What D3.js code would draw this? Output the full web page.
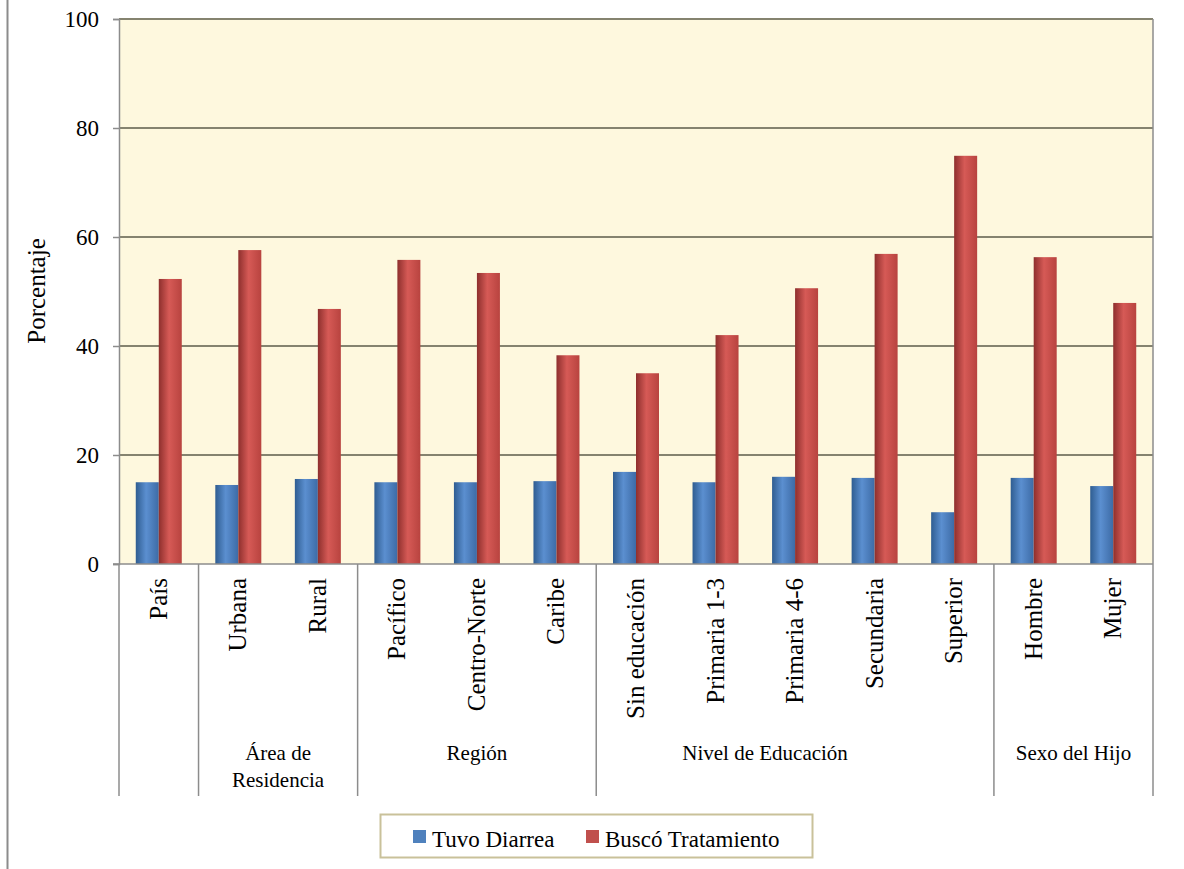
<!DOCTYPE html>
<html><head><meta charset="utf-8">
<script src="https://cdn.jsdelivr.net/npm/d3@7"></script>
<style>body{margin:0;background:#fff;} svg{display:block;}</style>
</head><body>
<svg id="c" width="1184" height="869"></svg>
<script>
const categories = ["País","Urbana","Rural","Pacífico","Centro-Norte","Caribe","Sin educación","Primaria 1-3","Primaria 4-6","Secundaria","Superior","Hombre","Mujer"];
const tuvoDiarrea = [15.0,14.5,15.6,15.0,15.0,15.2,16.9,15.0,16.0,15.8,9.5,15.8,14.3];
const buscoTratamiento = [52.3,57.6,46.8,55.8,53.4,38.3,35.0,42.0,50.6,56.9,74.9,56.3,47.9];
const groupNames = [[""],["Área de","Residencia"],["Región"],["Nivel de Educación"],["Sexo del Hijo"]];
const groupStart = [0,1,3,6,11];
const groupEnd = [0,2,5,10,12];
const yTicks = [0,20,40,60,80,100];
const seriesNames = ["Tuvo Diarrea","Buscó Tratamiento"];

const font = "'Liberation Serif','DejaVu Serif',serif";
const groupLabelShift = [0,0,0,-30,0];

const svg = d3.select("#c");
const L=119,R=1153,T=19,B=564;
const x = d3.scaleBand().domain(categories).range([L,R]).paddingInner(0).paddingOuter(0);
const y = d3.scaleLinear().domain([0,100]).range([B,T]);
const sub = d3.scaleBand().domain(seriesNames).range([0,46]);
const offset = (x.bandwidth()-46)/2;

const defs = svg.append("defs");
function grad(id, dark, mid, light){
  const g = defs.append("linearGradient").attr("id",id).attr("x1","0").attr("x2","1").attr("y1","0").attr("y2","0");
  g.append("stop").attr("offset","0%").attr("stop-color",dark);
  g.append("stop").attr("offset","45%").attr("stop-color",light);
  g.append("stop").attr("offset","100%").attr("stop-color",mid);
}
grad("gb","#2f5d91","#3d6ba6","#5b8fd0");
grad("gr","#8e2f2d","#b8433f","#d65a56");

// outer left border
svg.append("line").attr("x1",7.5).attr("x2",7.5).attr("y1",0).attr("y2",869).attr("stroke","#8c8c8c").attr("stroke-width",2);

// plot background
svg.append("rect").attr("x",L).attr("y",T).attr("width",R-L).attr("height",B-T).attr("fill","#fef8de");

// gridlines
svg.append("g").selectAll("line").data(yTicks.filter(d=>d>0)).join("line")
  .attr("x1",L).attr("x2",R).attr("y1",d=>y(d)).attr("y2",d=>y(d))
  .attr("stroke","#85836f").attr("stroke-width",2.2);

// y axis
const yAxis = svg.append("g").attr("transform",`translate(${L},0)`)
  .call(d3.axisLeft(y).tickValues(yTicks).tickSize(6).tickPadding(14));
yAxis.select(".domain").attr("stroke","#8c8c8c").attr("stroke-width",1.5);
yAxis.selectAll(".tick line").attr("stroke","#8c8c8c").attr("stroke-width",1.5);
yAxis.selectAll("text").attr("font-family",font).attr("font-size",23).attr("fill","#000");

// right border line
svg.append("line").attr("x1",R).attr("x2",R).attr("y1",T).attr("y2",B).attr("stroke","#8c8c8c").attr("stroke-width",1.5);

// bars
const bars = svg.append("g");
categories.forEach((c,i)=>{
  [[tuvoDiarrea[i],"gb",seriesNames[0]],[buscoTratamiento[i],"gr",seriesNames[1]]].forEach(([v,g,s])=>{
    bars.append("rect").attr("x",x(c)+offset+sub(s)).attr("width",sub.bandwidth())
      .attr("y",y(v)).attr("height",y(0)-y(v)).attr("fill",`url(#${g})`);
  });
});

// x baseline
svg.append("line").attr("x1",L-6).attr("x2",R).attr("y1",B).attr("y2",B).attr("stroke","#8c8c8c").attr("stroke-width",1.5);

// group dividers
const divX = [L].concat(groupEnd.map(e=>x(categories[e])+x.bandwidth()));
svg.append("g").selectAll("line").data(divX).join("line")
  .attr("x1",d=>d).attr("x2",d=>d).attr("y1",B).attr("y2",796)
  .attr("stroke","#8c8c8c").attr("stroke-width",1.5);

// category labels
svg.append("g").selectAll("text").data(categories).join("text")
  .attr("transform",d=>`translate(${x(d)+x.bandwidth()/2+8},578) rotate(-90)`)
  .attr("text-anchor","end").attr("font-family",font).attr("font-size",25).attr("fill","#000")
  .text(d=>d);

// group labels
groupNames.forEach((name,gi)=>{
  const cx = (x(categories[groupStart[gi]]) + x(categories[groupEnd[gi]]) + x.bandwidth())/2 + groupLabelShift[gi];
  const t = svg.append("text").attr("text-anchor","middle").attr("font-family",font).attr("font-size",21).attr("fill","#000");
  name.forEach((n,k)=>t.append("tspan").attr("x",cx).attr("y",760+k*27).text(n));
});

// y title
svg.append("text").attr("transform","translate(45,291) rotate(-90)").attr("text-anchor","middle")
  .attr("font-family",font).attr("font-size",25).text("Porcentaje");

// legend
const lg = svg.append("g");
lg.append("rect").attr("x",380.5).attr("y",814.5).attr("width",432).attr("height",43).attr("fill","#fff").attr("stroke","#c9c19a").attr("stroke-width",2);
const itemColors = ["#4f81bd","#c0504d"];
const itemX = [413,586];
seriesNames.forEach((n,i)=>{
  lg.append("rect").attr("x",itemX[i]).attr("y",830).attr("width",13).attr("height",13).attr("fill",itemColors[i]);
  lg.append("text").attr("x",itemX[i]+19).attr("y",847).attr("font-family",font).attr("font-size",23).text(n);
});
</script>
</body></html>
